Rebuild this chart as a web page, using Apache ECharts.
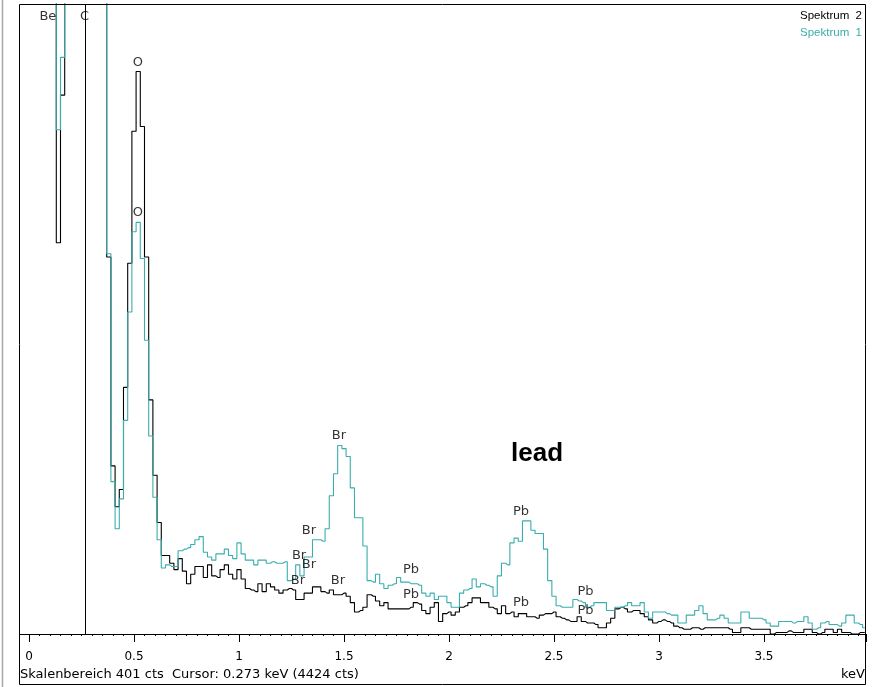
<!DOCTYPE html>
<html>
<head>
<meta charset="utf-8">
<script src="https://cdn.jsdelivr.net/npm/echarts@6/dist/echarts.min.js"></script>
<style>
  html, body { margin: 0; padding: 0; background: #fff; }
  #chart { width: 875px; height: 687px; }
</style>
</head>
<body>
<div id="chart"></div>
<script>
// EDX spectra, 20 eV channels starting at 0 keV
const channelWidth = 0.02;

// Spektrum 2 (black), counts per channel
const spektrum2 = [
  5200, 2600, 1100, 760, 620, 540, 470, 249, 343, 480,
  720, 1150, 1900, 3100, 4424, 3900, 2500, 1300, 640, 240,
  107, 81, 92, 157, 236, 320, 358, 323, 240, 149,
  101, 71, 50, 50, 45, 41, 48, 40, 32, 38,
  43, 43, 36, 44, 37, 36, 41, 44, 38, 35,
  41, 35, 29, 28, 27, 32, 27, 32, 30, 28,
  26, 28, 29, 28, 22, 22, 26, 26, 30, 30,
  27, 26, 28, 25, 25, 26, 24, 20, 14, 15,
  17, 25, 24, 21, 18, 20, 16, 16, 16, 16,
  16, 17, 20, 19, 15, 13, 17, 20, 8, 13,
  14, 12, 14, 17, 18, 20, 23, 23, 20, 20,
  17, 16, 13, 18, 13, 14, 11, 13, 13, 11,
  11, 10, 12, 13, 13, 14, 11, 10, 9, 8,
  8, 11, 8, 7, 7, 6, 4, 4, 7, 10,
  16, 17, 16, 14, 15, 15, 13, 11, 9, 7,
  8, 9, 8, 7, 5, 4, 3, 3, 4, 4,
  3, 4, 4, 4, 4, 4, 4, 3, 1, 1,
  4, 4, 3, 3, 3, 3, 3, 0, 1, 1,
  1, 2, 1, 1, 1, 3, 3, 1, 0, 1,
  3, 3, 1, 3, 1, 1, 0, 0, 1, 1
];

// Spektrum 1 (teal), counts per channel
const spektrum1 = [
  5600, 2800, 1250, 840, 690, 590, 500, 321, 367, 520,
  800, 1300, 2150, 3500, 4900, 4300, 2700, 1400, 700, 242,
  97, 67, 86, 136, 205, 256, 262, 239, 187, 126,
  87, 60, 42, 44, 43, 43, 53, 54, 55, 57,
  60, 62, 52, 49, 47, 51, 51, 54, 50, 48,
  58, 51, 47, 47, 44, 47, 47, 45, 46, 45,
  45, 46, 34, 35, 44, 37, 49, 49, 60, 60,
  59, 67, 88, 102, 120, 118, 113, 93, 74, 74,
  56, 34, 33, 38, 32, 29, 31, 32, 36, 33,
  33, 32, 32, 31, 26, 24, 26, 22, 24, 24,
  20, 17, 17, 26, 28, 29, 35, 30, 32, 31,
  30, 24, 37, 45, 44, 58, 61, 59, 72, 72,
  66, 64, 64, 54, 34, 24, 18, 17, 17, 17,
  22, 21, 20, 17, 18, 20, 20, 20, 15, 15,
  17, 17, 18, 20, 18, 18, 20, 14, 10, 14,
  14, 14, 13, 12, 12, 7, 7, 12, 12, 15,
  18, 13, 9, 9, 10, 12, 10, 7, 7, 7,
  14, 14, 10, 10, 10, 9, 7, 5, 5, 8,
  8, 8, 7, 8, 8, 11, 7, 3, 4, 7,
  8, 6, 6, 5, 7, 12, 12, 7, 6, 4
];

// element markers: [symbol, energy keV, counts]
const peakLabels = [
  ['Be', 0.09, 393], ['C', 0.264, 393],
  ['O', 0.519, 364], ['O', 0.519, 268],
  ['Br', 1.476, 126], ['Br', 1.333, 66], ['Br', 1.286, 50],
  ['Br', 1.333, 44], ['Br', 1.281, 34], ['Br', 1.471, 34],
  ['Pb', 1.819, 41], ['Pb', 1.819, 25], ['Pb', 2.343, 78],
  ['Pb', 2.343, 20], ['Pb', 2.65, 27], ['Pb', 2.65, 15]
];

const seriesNames = ['Spektrum  2', 'Spektrum  1'];
const scaleRange = 401;     // counts, full scale
const energyMax = 3.986;    // keV, right edge
const cursorEnergy = 0.273; // keV
const cursorCounts = 4424;
const tickStep = 0.5;

const FONT = "'DejaVu Sans', Verdana, sans-serif";
const FONT_NARROW = "'Liberation Sans', Arial, sans-serif";
const TEAL = '#3aadad';

const toPoints = arr => arr.map((c, i) => [+(i * channelWidth).toFixed(2), c]);

const chart = echarts.init(document.getElementById('chart'), null, { renderer: 'canvas' });

chart.setOption({
  animation: false,
  backgroundColor: '#fff',
  textStyle: { fontFamily: FONT },
  title: {
    text: 'lead',
    left: 511, top: 441, padding: 0,
    textStyle: { fontFamily: FONT_NARROW, fontSize: 26, fontWeight: 'bold', color: '#000' }
  },
  legend: {
    data: [
      { name: seriesNames[0], textStyle: { color: '#000' } },
      { name: seriesNames[1], textStyle: { color: TEAL } }
    ],
    orient: 'vertical',
    right: 8, top: 10,
    align: 'right',
    icon: 'none',
    itemWidth: 0, itemHeight: 0,
    itemGap: 5,
    padding: 0,
    selectedMode: false,
    textStyle: { fontFamily: FONT_NARROW, fontSize: 11.5 }
  },
  grid: { left: 29, right: 9, top: 4, bottom: 53, containLabel: false },
  xAxis: {
    type: 'value',
    min: 0, max: energyMax,
    interval: tickStep,
    offset: 5,
    axisLine: { show: false },
    axisTick: { show: true, length: 8, lineStyle: { color: '#000', width: 1 } },
    minorTick: { show: true, splitNumber: 10, length: 2, lineStyle: { color: '#000', width: 1 } },
    splitLine: { show: false },
    axisLabel: { showMaxLabel: false, color: '#000', fontSize: 12, fontFamily: FONT, margin: 12 }
  },
  yAxis: {
    type: 'value', min: 0, max: scaleRange, show: false, splitLine: { show: false }
  },
  graphic: [
    { type: 'line', silent: true, shape: { x1: 2.5, y1: 0, x2: 2.5, y2: 687 },
      style: { stroke: '#a8a8a8', lineWidth: 1.5 } },
    { type: 'rect', silent: true, z: 100,
      shape: { x: 19.5, y: 4.5, width: 846, height: 680 },
      style: { fill: null, stroke: '#000', lineWidth: 1 } },
    { type: 'line', silent: true, z: 100,
      shape: { x1: 19.5, y1: 634.5, x2: 865.5, y2: 634.5 },
      style: { stroke: '#000', lineWidth: 1 } },
    { type: 'text', silent: true, left: 20, top: 668,
      style: { text: 'Skalenbereich ' + scaleRange + ' cts  Cursor: ' + cursorEnergy.toFixed(3) +
               ' keV (' + cursorCounts + ' cts)', fill: '#000', font: '13px ' + FONT } },
    { type: 'text', silent: true, right: 10, top: 668,
      style: { text: 'keV', fill: '#000', font: '13px ' + FONT } }
  ],
  series: [
    {
      name: seriesNames[0], type: 'line', step: 'middle', symbol: 'none',
      data: toPoints(spektrum2),
      lineStyle: { color: '#000', width: 1.1 }, itemStyle: { color: '#000' },
      z: 2,
      markLine: {
        silent: true, symbol: 'none', animation: false,
        label: { show: false },
        lineStyle: { color: '#000', width: 1, type: 'solid' },
        data: [{ xAxis: cursorEnergy }]
      }
    },
    {
      name: seriesNames[1], type: 'line', step: 'middle', symbol: 'none',
      data: toPoints(spektrum1),
      lineStyle: { color: TEAL, width: 1.1 }, itemStyle: { color: TEAL },
      z: 3
    },
    {
      name: 'labels', type: 'scatter', symbolSize: 1, silent: true, z: 4,
      itemStyle: { color: 'rgba(0,0,0,0)' },
      data: peakLabels.map(p => ({ name: p[0], value: [p[1], p[2]] })),
      label: { show: true, position: 'inside', formatter: p => p.name,
               color: '#000', fontSize: 13, fontFamily: FONT }
    }
  ]
});
</script>
</body>
</html>
